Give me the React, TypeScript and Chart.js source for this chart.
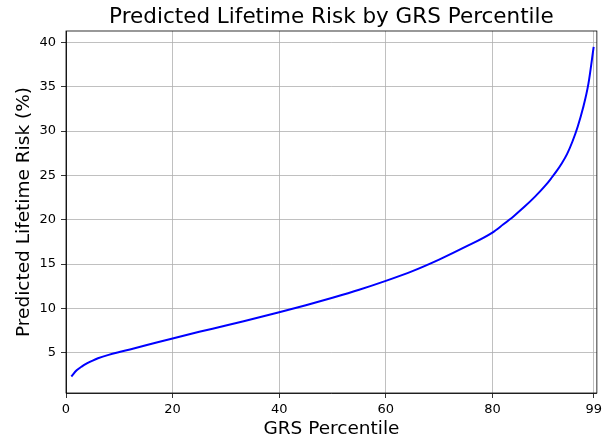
import React, { useEffect, useRef } from "react";
import { Chart, registerables } from "chart.js";

Chart.register(...registerables);

const percentiles = [1, 2, 3, 4, 5, 6, 8, 10, 12, 15, 20, 25, 30, 35, 40, 45, 50, 55, 60, 65, 70, 75, 80, 82, 84, 86, 88, 90, 91, 92, 93, 94, 95, 96, 97, 98, 99];
const risks = [2.3, 3.0, 3.45, 3.8, 4.1, 4.36, 4.74, 5.06, 5.36, 5.82, 6.6, 7.35, 8.05, 8.8, 9.55, 10.35, 11.2, 12.1, 13.1, 14.2, 15.5, 16.95, 18.55, 19.45, 20.4, 21.45, 22.6, 23.9, 24.65, 25.45, 26.35, 27.4, 28.8, 30.5, 32.6, 35.3, 39.5];
const xTicks = [0, 20, 40, 60, 80, 99];
const yTicks = [5, 10, 15, 20, 25, 30, 35, 40];
const titleText = "Predicted Lifetime Risk by GRS Percentile";

const FONT = "'DejaVu Sans', sans-serif";

const framePlugin = {
  id: "frame",
  afterDraw(chart: any) {
    const { ctx, chartArea } = chart;
    ctx.save();
    ctx.strokeStyle = "#000";
    ctx.lineWidth = 0.8;
    ctx.strokeRect(chartArea.left, chartArea.top, chartArea.right - chartArea.left, chartArea.bottom - chartArea.top);
    ctx.fillStyle = "#000";
    ctx.font = `21.5px ${FONT}`;
    ctx.textAlign = "center";
    ctx.textBaseline = "alphabetic";
    ctx.fillText(titleText, (chartArea.left + chartArea.right) / 2, 23);
    ctx.restore();
  },
};

export default function App() {
  const ref = useRef<HTMLCanvasElement>(null);
  useEffect(() => {
    if (!ref.current) return;
    const chart = new Chart(ref.current, {
      type: "line",
      data: {
        datasets: [
          {
            data: percentiles.map((p, i) => ({ x: p, y: risks[i] })),
            borderColor: "#0000ff",
            borderWidth: 2,
            pointRadius: 0,
            cubicInterpolationMode: "monotone",
            fill: false,
          },
        ],
      },
      options: {
        animation: false,
        responsive: false,
        layout: { padding: { left: 0, right: 9, top: 31, bottom: 0 } },
        plugins: {
          legend: { display: false },
          tooltip: { enabled: false },
          title: { display: false },
        },
        scales: {
          x: {
            type: "linear",
            min: 0,
            max: 99.6,
            afterBuildTicks: (s: any) => {
              s.ticks = xTicks.map((v) => ({ value: v }));
            },
            afterFit: (s: any) => {
              s.height = 47;
            },
            ticks: { color: "#000", font: { family: FONT, size: 13 }, padding: 4, maxRotation: 0, autoSkip: false },
            grid: { color: "#b0b0b0", lineWidth: 0.8, tickColor: "#000", tickLength: 5 },
            border: { color: "#000", width: 0.8 },
            title: {
              display: true,
              text: "GRS Percentile",
              color: "#000",
              font: { family: FONT, size: 18.5 },
              padding: { top: 0, bottom: 0 },
            },
          },
          y: {
            type: "linear",
            min: 0.44,
            max: 41.3,
            afterBuildTicks: (s: any) => {
              s.ticks = yTicks.map((v) => ({ value: v }));
            },
            afterFit: (s: any) => {
              s.width = 66;
            },
            ticks: { color: "#000", font: { family: FONT, size: 13 }, padding: 5, autoSkip: false },
            grid: { color: "#b0b0b0", lineWidth: 0.8, tickColor: "#000", tickLength: 5 },
            border: { color: "#000", width: 0.8 },
            title: {
              display: true,
              text: "Predicted Lifetime Risk (%)",
              color: "#000",
              font: { family: FONT, size: 18.5 },
              padding: { top: 13, bottom: 0 },
            },
          },
        },
      },
      plugins: [framePlugin],
    } as any);
    return () => chart.destroy();
  }, []);
  return (
    <div style={{ position: "absolute", left: 0, top: 0, width: 606, height: 440 }}>
      <canvas ref={ref} width={606} height={440} style={{ display: "block" }} />
    </div>
  );
}
